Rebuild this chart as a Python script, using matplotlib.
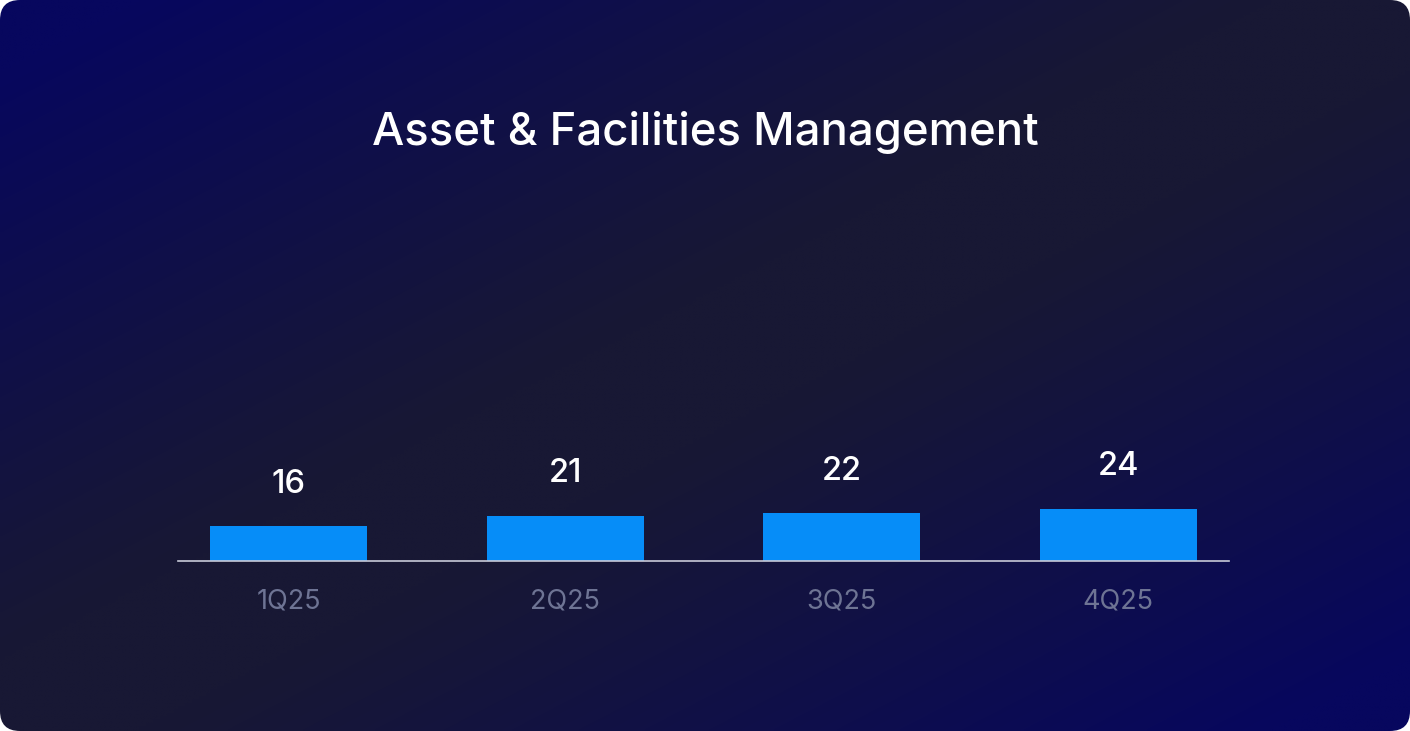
import numpy as np
import matplotlib
matplotlib.use("Agg")
import matplotlib.pyplot as plt
from matplotlib.patches import FancyBboxPatch

categories = ["1Q25", "2Q25", "3Q25", "4Q25"]
values = [16, 21, 22, 24]
title = "Asset & Facilities Management"

FONT = ["Inter", "DejaVu Sans"]
W, H = 1410, 731
fig = plt.figure(figsize=(W / 100, H / 100), dpi=100)
fig.patch.set_facecolor("white")

# background card with diagonal gradient
bg = fig.add_axes([0, 0, 1, 1])
bg.set_xlim(0, W)
bg.set_ylim(H, 0)
bg.axis("off")
xx, yy = np.meshgrid(np.linspace(0, 1, 400), np.linspace(0, 1, 220))
t = (xx + yy) / 2
blue = np.array([7, 7, 94]) / 255
dark = np.array([24, 24, 52]) / 255
w = np.clip((np.abs(t - 0.5) - 0.05) / 0.4, 0, 1) ** 1.1
img = dark[None, None, :] * (1 - w[..., None]) + blue[None, None, :] * w[..., None]
im = bg.imshow(img, extent=[0, W, H, 0], aspect="auto", interpolation="bilinear")
card = FancyBboxPatch((20, 20), W - 40, H - 40, boxstyle="round,pad=20,rounding_size=20",
                      transform=bg.transData, facecolor="none", edgecolor="none")
bg.add_patch(card)
im.set_clip_path(card)

fig.text(705 / W, 1 - 133 / H, title, ha="center", va="center", color="white",
         fontsize=32.8, family=FONT, fontweight="medium")

ax = fig.add_axes([178 / W, 170 / H, 1051 / W, 361 / H])
ax.patch.set_alpha(0)
x = np.arange(len(categories))
bars = ax.bar(x, values, width=0.567, color="#068DF8", zorder=2)
ax.set_xlim(-0.4, 3.4)
ax.set_ylim(0, 167)
for s in ["top", "right", "left"]:
    ax.spines[s].set_visible(False)
ax.spines["bottom"].set_color("#C8CAD8")
ax.spines["bottom"].set_linewidth(1.2)
ax.set_yticks([])
ax.set_xticks(x)
ax.set_xticklabels(categories, color="#6E7494", fontsize=19.5, family=FONT)
ax.tick_params(axis="x", length=0, pad=19.5)
for xi, v in zip(x, values):
    ax.annotate(str(v), (xi, v), xytext=(0, 30.5), textcoords="offset points",
                ha="center", va="center", color="white", fontsize=23.5,
                family=FONT, fontweight="medium")

fig.savefig("out.png", dpi=100, facecolor="white")
